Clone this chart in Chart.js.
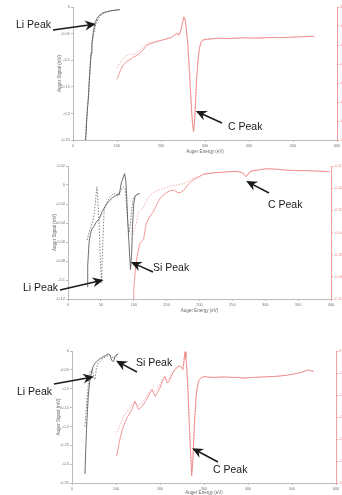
<!DOCTYPE html>
<html>
<head>
<meta charset="utf-8">
<script src="https://cdn.jsdelivr.net/npm/chart.js@4.4.1/dist/chart.umd.min.js"></script>
<style>
  body { margin: 0; background: #fff; }
  #wrap { position: relative; width: 342px; height: 495px; overflow: hidden; }
  canvas { position: absolute; left: 0; }
</style>
</head>
<body>
<div id="wrap">
  <canvas id="c1" width="342" height="160" style="top:0px"></canvas>
  <canvas id="c2" width="342" height="160" style="top:160px"></canvas>
  <canvas id="c3" width="342" height="161" style="top:334px"></canvas>
</div>
<script>
// ---- panel 1 : wide scan (Li on left axis, C on right axis) ----
const p1EnergyTicks = [0, 100, 200, 300, 400, 500, 600];
const p1SignalTicks = [0, -0.05, -0.1, -0.15, -0.2, -0.25];
const p1RightTicks = [0, -0.05, -0.1, -0.15, -0.2, -0.25, -0.3, -0.35];

const p1LiSolid = [[29,-0.25],[31,-0.215],[33,-0.19],[35,-0.172],[37,-0.14],[39,-0.113],[41,-0.088],[43,-0.068],[46,-0.048],[50,-0.03],[55,-0.021],[61,-0.015],[68,-0.011],[76,-0.009],[85,-0.007],[95,-0.006],[107,-0.005]];
const p1LiDash = [[28,-0.25],[30,-0.225],[32,-0.2],[34,-0.178],[36,-0.15],[38,-0.122],[40,-0.098],[43,-0.072],[47,-0.05],[52,-0.032],[58,-0.021],[66,-0.014],[75,-0.01],[85,-0.008],[97,-0.006],[107,-0.005]];
const p1CSolid = [[100,-0.19],[104,-0.178],[108,-0.166],[114,-0.153],[120,-0.145],[125,-0.141],[131,-0.137],[137,-0.132],[144,-0.128],[152,-0.122],[160,-0.112],[167,-0.102],[175,-0.097],[183,-0.094],[190,-0.091],[200,-0.088],[210,-0.085],[218,-0.082],[225,-0.079],[231,-0.073],[236,-0.069],[241,-0.074],[245,-0.062],[249,-0.042],[252,-0.026],[255,-0.033],[258,-0.062],[261,-0.1],[264,-0.16],[267,-0.22],[270,-0.28],[272,-0.31],[274,-0.328],[276,-0.31],[278,-0.26],[281,-0.19],[284,-0.14],[287,-0.11],[291,-0.093],[295,-0.087],[300,-0.086],[306,-0.085],[315,-0.084],[330,-0.082],[350,-0.083],[370,-0.082],[390,-0.081],[410,-0.082],[430,-0.081],[450,-0.08],[470,-0.081],[490,-0.08],[510,-0.079],[530,-0.078],[548,-0.077]];
const p1CDash = [[100,-0.16],[105,-0.15],[110,-0.142],[116,-0.133],[122,-0.128],[128,-0.124],[134,-0.126],[140,-0.123],[148,-0.118],[156,-0.11],[165,-0.1],[175,-0.094],[185,-0.091],[195,-0.089],[205,-0.086],[215,-0.083],[225,-0.08],[235,-0.071],[240,-0.072],[245,-0.06],[250,-0.032],[253,-0.028],[256,-0.045],[260,-0.085],[264,-0.15],[268,-0.24],[271,-0.3],[274,-0.322],[277,-0.29],[280,-0.21],[284,-0.15],[288,-0.105],[292,-0.09],[297,-0.085],[305,-0.084],[320,-0.083],[340,-0.083],[360,-0.082],[380,-0.082],[400,-0.081],[420,-0.082],[440,-0.081],[460,-0.08],[480,-0.08],[500,-0.079],[520,-0.078],[540,-0.077],[548,-0.077]];

// ---- panel 2 : Li / Si region, C on right axis ----
const p2EnergyTicks = [0, 50, 100, 150, 200, 250, 300, 350, 400];
const p2SignalTicks = [0.02, 0, -0.02, -0.04, -0.06, -0.08, -0.1, -0.12];
const p2RightTicks = [-0.01, -0.02, -0.03, -0.04, -0.05, -0.06, -0.07];

const p2LiSolid = [[29,-0.107],[30,-0.085],[32,-0.061],[34,-0.052],[36,-0.047],[40,-0.043],[43,-0.039],[48,-0.035],[52,-0.028],[56,-0.023],[60,-0.019],[64,-0.016],[68,-0.013],[71,-0.012],[74,-0.011],[76,-0.009],[78,-0.01],[81,0.002],[84,0.008],[86,0.012],[88,0.004],[89,-0.009],[91,-0.04],[93,-0.065],[95,-0.089],[97,-0.07],[98,-0.044],[100,-0.02],[102,-0.012],[105,-0.01],[109,-0.009]];
const p2LiDash = [[29,-0.058],[32,-0.05],[35,-0.044],[38,-0.037],[40,-0.03],[42,-0.015],[44,-0.002],[45,-0.01],[47,-0.037],[49,-0.075],[51,-0.103],[53,-0.06],[55,-0.026],[58,-0.02],[61,-0.016],[65,-0.012],[69,-0.009],[73,-0.01],[76,-0.012],[80,-0.006],[84,-0.002],[87,-0.004],[89,-0.02],[91,-0.04],[93,-0.05],[95,-0.04],[97,-0.025],[99,-0.015],[101,-0.012],[105,-0.01],[109,-0.009]];
const p2CSolid = [[99,-0.07],[100,-0.066],[101.5,-0.06],[103,-0.055],[105,-0.051],[107,-0.048],[109,-0.045],[112,-0.044],[115,-0.043],[119,-0.036],[124,-0.033],[129,-0.031],[134,-0.028],[139,-0.025],[145,-0.023],[150,-0.022],[156,-0.021],[162,-0.021],[167,-0.022],[171,-0.022],[176,-0.021],[181,-0.019],[186,-0.0174],[192,-0.016],[199,-0.015],[206,-0.0136],[215,-0.0133],[224,-0.013],[232,-0.0129],[240,-0.0127],[248,-0.0125],[257,-0.0124],[263,-0.0128],[267,-0.0135],[269,-0.0143],[271,-0.0147],[273,-0.0143],[275,-0.013],[280,-0.0122],[287,-0.012],[295,-0.0115],[303,-0.0112],[311,-0.0113],[320,-0.0115],[330,-0.0118],[340,-0.012],[350,-0.0121],[360,-0.012],[370,-0.0122],[380,-0.0123],[390,-0.0124],[398,-0.0126]];
const p2CDash = [[99,-0.041],[101,-0.038],[104,-0.036],[107,-0.031],[110,-0.03],[114,-0.029],[119,-0.026],[124,-0.0235],[130,-0.022],[136,-0.021],[142,-0.0205],[148,-0.02],[156,-0.019],[165,-0.0185],[175,-0.018],[185,-0.0165],[195,-0.015],[205,-0.014],[215,-0.0135],[225,-0.013],[235,-0.0128],[245,-0.0126],[255,-0.0125],[262,-0.0128],[267,-0.0138],[270,-0.0145],[273,-0.014],[277,-0.0128],[283,-0.012],[290,-0.0116],[300,-0.0114],[310,-0.0115],[320,-0.0117],[330,-0.0119],[340,-0.012],[350,-0.0121],[360,-0.0122],[370,-0.0123],[380,-0.0124],[390,-0.0125],[398,-0.0126]];

// ---- panel 3 : wide scan after treatment ----
const p3EnergyTicks = [0, 100, 200, 300, 400, 500, 600];
const p3SignalTicks = [0, -0.05, -0.1, -0.15, -0.2, -0.25, -0.3, -0.35];
const p3RightTicks = [0, -0.1, -0.2, -0.3, -0.4, -0.5, -0.6];

const p3LiSolid = [[29.5,-0.326],[31,-0.27],[33,-0.208],[35,-0.16],[37,-0.12],[39,-0.095],[41,-0.076],[44,-0.058],[48,-0.041],[52,-0.033],[56,-0.028],[62,-0.022],[67,-0.018],[71,-0.015],[76,-0.012],[80,-0.009],[83,-0.008],[86,-0.01],[88,-0.016],[90,-0.024],[92,-0.027],[94,-0.028],[96,-0.022],[98,-0.015],[101,-0.01],[105,-0.008]];
const p3LiDash = [[29.5,-0.2],[31,-0.175],[33,-0.145],[35,-0.118],[37,-0.09],[39,-0.062],[42,-0.052],[45,-0.05],[48,-0.06],[50,-0.07],[52,-0.076],[54,-0.06],[56,-0.042],[60,-0.032],[64,-0.027],[68,-0.022],[72,-0.018],[77,-0.015],[82,-0.012],[86,-0.011],[90,-0.015],[94,-0.02],[98,-0.014],[102,-0.01],[105,-0.008]];
const p3CSolid = [[101.5,-0.477],[105,-0.44],[109,-0.4],[114,-0.36],[120,-0.326],[126,-0.3],[132,-0.281],[137,-0.26],[143,-0.229],[147,-0.245],[151,-0.266],[156,-0.258],[162,-0.244],[168,-0.225],[175,-0.2],[181,-0.176],[185,-0.19],[189,-0.206],[194,-0.19],[200,-0.168],[205,-0.14],[211,-0.116],[216,-0.144],[220,-0.14],[225,-0.116],[229,-0.1],[233,-0.086],[237,-0.078],[240,-0.071],[244,-0.068],[248,-0.072],[252,-0.086],[255,-0.04],[257,-0.003],[259,-0.03],[261,-0.086],[264,-0.2],[267,-0.356],[270,-0.48],[272,-0.567],[274,-0.52],[276,-0.432],[279,-0.3],[282,-0.206],[286,-0.15],[289,-0.131],[294,-0.122],[301,-0.116],[310,-0.118],[320,-0.12],[335,-0.119],[350,-0.118],[365,-0.12],[376,-0.119],[389,-0.124],[400,-0.122],[415,-0.12],[430,-0.118],[445,-0.117],[460,-0.116],[475,-0.113],[490,-0.11],[505,-0.104],[513,-0.101],[525,-0.095],[536,-0.086],[549,-0.093]];
const p3CDash = [[101.5,-0.37],[106,-0.35],[111,-0.33],[117,-0.3],[123,-0.28],[129,-0.265],[135,-0.245],[141,-0.232],[146,-0.24],[151,-0.25],[157,-0.238],[163,-0.222],[170,-0.205],[177,-0.185],[182,-0.172],[187,-0.185],[192,-0.18],[198,-0.16],[204,-0.135],[210,-0.12],[215,-0.13],[221,-0.125],[227,-0.105],[233,-0.09],[239,-0.078],[244,-0.07],[249,-0.075],[253,-0.06],[256,-0.01],[258,-0.02],[261,-0.07],[264,-0.17],[267,-0.33],[270,-0.47],[272,-0.55],[275,-0.5],[278,-0.36],[281,-0.24],[285,-0.16],[289,-0.13],[295,-0.12],[302,-0.118],[312,-0.121],[325,-0.12],[340,-0.118],[355,-0.12],[370,-0.121],[385,-0.122],[400,-0.121],[420,-0.119],[440,-0.118],[460,-0.115],[480,-0.112],[500,-0.106],[515,-0.1],[530,-0.092],[540,-0.088],[549,-0.092]];

// peak callouts: arrow tip sits on the data (energy, signal), label/tail in canvas px
const p1Notes = [
  { text: 'Li Peak', textX: 16, textY: 25, tailX: 53, tailY: 30, atE: 52, atV: -0.032, axis: 'y' },
  { text: 'C Peak', textX: 228, textY: 127, tailX: 222, tailY: 123, atE: 279, atV: -0.274, axis: 'y2' }
];
const p2Notes = [
  { text: 'Li Peak', textX: 23, textY: 128, tailX: 60, tailY: 130, atE: 54, atV: -0.1, axis: 'y' },
  { text: 'Si Peak', textX: 153, textY: 108, tailX: 153, tailY: 112, atE: 95.5, atV: -0.081, axis: 'y' },
  { text: 'C Peak', textX: 268, textY: 45, tailX: 269, tailY: 33, atE: 271, atV: -0.0168, axis: 'y2' }
];
const p3Notes = [
  { text: 'Si Peak', textX: 136, textY: 29, tailX: 137, tailY: 38, atE: 100, atV: -0.026, axis: 'y' },
  { text: 'Li Peak', textX: 17, textY: 58, tailX: 54, tailY: 50, atE: 50, atV: -0.068, axis: 'y' },
  { text: 'C Peak', textX: 213, textY: 136, tailX: 218, tailY: 128, atE: 273, atV: -0.442, axis: 'y2' }
];

Chart.defaults.font.family = '"Liberation Sans", Arial, sans-serif';

const GREY_AXIS = '#bbbbbb';
const RED_AXIS = '#f2a0a0';

function fmt(v) {
  return String(Math.round(v * 1000) / 1000);
}

function drawArrow(ctx, sx, sy, tx, ty) {
  const a = Math.atan2(ty - sy, tx - sx);
  const dx = Math.cos(a), dy = Math.sin(a);
  const px = -dy, py = dx;
  ctx.lineWidth = 1.5;
  ctx.beginPath();
  ctx.moveTo(sx, sy);
  ctx.lineTo(tx - dx * 7, ty - dy * 7);
  ctx.stroke();
  ctx.beginPath();
  ctx.moveTo(tx, ty);
  ctx.lineTo(tx - dx * 11 + px * 5, ty - dy * 11 + py * 5);
  ctx.lineTo(tx - dx * 7.5, ty - dy * 7.5);
  ctx.lineTo(tx - dx * 11 - px * 5, ty - dy * 11 - py * 5);
  ctx.closePath();
  ctx.fill();
}

function notesPlugin(notes) {
  return {
    id: 'peakNotes',
    afterDraw(chart) {
      const ctx = chart.ctx;
      ctx.save();
      ctx.font = '10.5px "Liberation Sans", Arial, sans-serif';
      ctx.fillStyle = '#1a1a1a';
      ctx.strokeStyle = '#1a1a1a';
      ctx.textBaseline = 'middle';
      notes.forEach(n => {
        ctx.fillText(n.text, n.textX, n.textY);
        const tx = chart.scales.x.getPixelForValue(n.atE);
        const ty = chart.scales[n.axis].getPixelForValue(n.atV);
        drawArrow(ctx, n.tailX, n.tailY, tx, ty);
      });
      ctx.restore();
    }
  };
}

function toXY(pts) {
  return pts.map(p => ({ x: p[0], y: p[1] }));
}

function axisCommon(ticks, color, labelColor) {
  return {
    type: 'linear',
    min: Math.min(...ticks),
    max: Math.max(...ticks),
    afterBuildTicks: s => { s.ticks = ticks.map(v => ({ value: v })); },
    grid: { drawOnChartArea: false, color: color, tickLength: 2 },
    border: { color: color, width: 1 },
    ticks: { font: { size: 4 }, color: labelColor, padding: 1, maxRotation: 0, autoSkip: false, callback: v => fmt(v) }
  };
}

function buildPanel(id, box, xTicks, leftTicks, rightTicks, series, notes) {
  const x = axisCommon(xTicks, GREY_AXIS, '#777');
  x.afterFit = s => { s.height = box.xHeight; };
  x.title = { display: true, text: 'Auger Energy (eV)', font: { size: 4.5 }, color: '#666', padding: 0 };

  const y = axisCommon(leftTicks, GREY_AXIS, '#777');
  y.position = 'left';
  y.afterFit = s => { s.width = 16; };
  y.title = { display: true, text: 'Auger Signal (mV)', font: { size: 4.5 }, color: '#666', padding: 0 };

  const y2 = axisCommon(rightTicks, RED_AXIS, '#ee8888');
  y2.position = 'right';
  y2.afterFit = s => { s.width = 342 - box.right; };

  new Chart(document.getElementById(id), {
    type: 'line',
    data: {
      datasets: series.map(s => ({
        data: toXY(s.pts),
        yAxisID: s.axis,
        borderColor: s.color,
        borderWidth: 0.8,
        borderDash: s.dash || [],
        pointRadius: 0,
        tension: 0,
        fill: false
      }))
    },
    options: {
      responsive: false,
      animation: false,
      devicePixelRatio: 1,
      layout: { padding: { left: box.left - 16, right: 0, top: box.top, bottom: box.padBottom } },
      plugins: { legend: { display: false }, tooltip: { enabled: false } },
      scales: { x: x, y: y, y2: y2 }
    },
    plugins: [notesPlugin(notes)]
  });
}

const BLACK = '#4a4a4a';
const BLACK_DASH = '#666666';
const RED = '#ef7d7d';
const RED_DASH = '#f29a9a';

buildPanel('c1', { left: 73, right: 337, top: 7, xHeight: 14, padBottom: 6 },
  p1EnergyTicks, p1SignalTicks, p1RightTicks, [
    { pts: p1LiSolid, axis: 'y', color: BLACK },
    { pts: p1LiDash, axis: 'y', color: BLACK_DASH, dash: [1.5, 1.5] },
    { pts: p1CSolid, axis: 'y2', color: RED },
    { pts: p1CDash, axis: 'y2', color: RED_DASH, dash: [1.5, 1.5] }
  ], p1Notes);

buildPanel('c2', { left: 68, right: 331, top: 6, xHeight: 14, padBottom: 7 },
  p2EnergyTicks, p2SignalTicks, p2RightTicks, [
    { pts: p2LiSolid, axis: 'y', color: BLACK },
    { pts: p2LiDash, axis: 'y', color: BLACK_DASH, dash: [1.5, 1.5] },
    { pts: p2CSolid, axis: 'y2', color: RED },
    { pts: p2CDash, axis: 'y2', color: RED_DASH, dash: [1.5, 1.5] }
  ], p2Notes);

buildPanel('c3', { left: 72, right: 336, top: 17, xHeight: 12, padBottom: 0 },
  p3EnergyTicks, p3SignalTicks, p3RightTicks, [
    { pts: p3LiSolid, axis: 'y', color: BLACK },
    { pts: p3LiDash, axis: 'y', color: BLACK_DASH, dash: [1.5, 1.5] },
    { pts: p3CSolid, axis: 'y2', color: RED },
    { pts: p3CDash, axis: 'y2', color: RED_DASH, dash: [1.5, 1.5] }
  ], p3Notes);
</script>
</body>
</html>
